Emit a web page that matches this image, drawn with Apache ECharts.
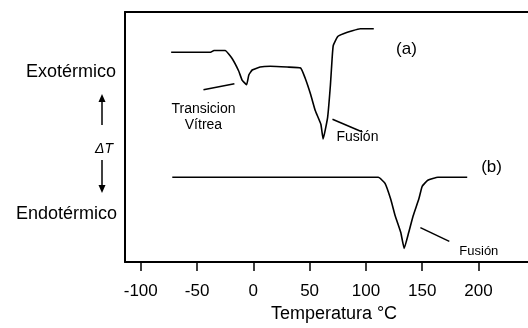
<!DOCTYPE html>
<html>
<head>
<meta charset="utf-8">
<script src="https://cdn.jsdelivr.net/npm/echarts@6/dist/echarts.min.js"></script>
<style>
html, body { margin: 0; padding: 0; background: #fff; }
#main { width: 528px; height: 328px; }
</style>
</head>
<body>
<div id="main"></div>
<script>
// curva (a): temperatura (°C) y señal ΔT (unidades arbitrarias)
const tempA = [-73, -38, -35, -25, -19, -13, -10, -6, -4, -1, 6, 15, 30, 42, 46, 51, 55, 60, 62, 66, 68.5, 70, 71, 75, 80, 88, 95, 107];
const dtA = [83.9, 83.9, 84.6, 84.6, 81.5, 76.4, 72.8, 70.9, 74.8, 76.8, 78.0, 78.3, 78.0, 77.6, 73.6, 66.9, 60.6, 55.1, 49.2, 57.9, 70.9, 81.5, 86.6, 90.2, 91.3, 92.5, 93.3, 93.3];
// curva (b)
const tempB = [-72, 111, 117, 122, 126, 131, 134, 138, 142, 147, 150, 155, 164, 190];
const dtB = [33.9, 33.9, 31.5, 25.2, 18.5, 11.8, 5.5, 11.8, 18.5, 25.2, 30.3, 32.7, 33.9, 33.9];
const tickTemps = [-100, -50, 0, 50, 100, 150, 200];

const font = '"Liberation Sans", Arial, sans-serif';
const black = '#000';

let chart = echarts.init(document.getElementById('main'));
chart.setOption({
    animation: false,
    grid: { left: 125, right: 0, top: 12, bottom: 61 },
    xAxis: [{
        type: 'value',
        min: -114,
        max: 244,
        position: 'bottom',
        axisLine: { onZero: false, lineStyle: { color: black, width: 2 } },
        axisTick: { customValues: tickTemps, length: 9, lineStyle: { color: black, width: 1.5 } },
        axisLabel: { customValues: tickTemps, color: black, fontSize: 17, fontFamily: font, margin: 21 },
        splitLine: { show: false },
        name: 'Temperatura °C',
        nameLocation: 'middle',
        nameGap: 41,
        nameTextStyle: { color: black, fontSize: 18, fontFamily: font, padding: [0, 0, 0, 15] }
    }, {
        type: 'value',
        min: -114,
        max: 244,
        position: 'top',
        axisLine: { onZero: false, lineStyle: { color: black, width: 2 } },
        axisTick: { show: false },
        axisLabel: { show: false },
        splitLine: { show: false }
    }],
    yAxis: {
        type: 'value',
        min: 0,
        max: 100,
        axisLine: { show: true, onZero: false, lineStyle: { color: black, width: 2 } },
        axisTick: { show: false },
        axisLabel: { show: false },
        splitLine: { show: false }
    },
    series: [{
        type: 'line',
        data: tempA.map((t, i) => [t, dtA[i]]),
        showSymbol: false,
        smooth: 0.12,
        lineStyle: { color: black, width: 1.6 }
    }, {
        type: 'line',
        data: tempB.map((t, i) => [t, dtB[i]]),
        showSymbol: false,
        smooth: 0.12,
        lineStyle: { color: black, width: 1.6 }
    }]
});

// anotaciones en coordenadas de datos
const pointers = [
    [-44.3, 68.9, -16.8, 71.3],
    [70.3, 57.1, 96.9, 52.0],
    [148.4, 13.8, 174.1, 8.3]
];
const notes = [
    { text: 'Transicion\nVítrea', x: -44.3, y: 57.9, align: 'center', size: 14 },
    { text: 'Fusión', x: 73.8, y: 50.0, align: 'left', size: 14 },
    { text: '(a)', x: 136, y: 85, align: 'center', size: 17 },
    { text: '(b)', x: 211.6, y: 37.8, align: 'center', size: 17 },
    { text: 'Fusión', x: 183, y: 4.3, align: 'left', size: 13 }
];

const toPx = (x, y) => chart.convertToPixel({ seriesIndex: 0 }, [x, y]);
let graphics = [];
pointers.forEach(p => {
    const a = toPx(p[0], p[1]);
    const b = toPx(p[2], p[3]);
    graphics.push({
        type: 'line',
        shape: { x1: a[0], y1: a[1], x2: b[0], y2: b[1] },
        style: { stroke: black, lineWidth: 1.5 }
    });
});
notes.forEach(n => {
    const p = toPx(n.x, n.y);
    graphics.push({
        type: 'text',
        x: p[0],
        y: p[1],
        style: { text: n.text, fill: black, font: n.size + 'px ' + font, align: n.align, verticalAlign: 'middle', lineHeight: 16 }
    });
});
// rótulos del eje ΔT (fuera del área del gráfico)
graphics.push(
    { type: 'text', x: 116, y: 72, style: { text: 'Exotérmico', fill: black, font: '18px ' + font, align: 'right', verticalAlign: 'middle' } },
    { type: 'text', x: 117, y: 214, style: { text: 'Endotérmico', fill: black, font: '18px ' + font, align: 'right', verticalAlign: 'middle' } },
    { type: 'text', x: 104, y: 149, style: { text: 'ΔT', fill: black, font: 'italic 14px ' + font, align: 'center', verticalAlign: 'middle' } },
    { type: 'line', shape: { x1: 102, y1: 125, x2: 102, y2: 99 }, style: { stroke: black, lineWidth: 1.5 } },
    { type: 'polygon', shape: { points: [[98.5, 102], [102, 94], [105.5, 102]] }, style: { fill: black } },
    { type: 'line', shape: { x1: 102, y1: 160, x2: 102, y2: 187 }, style: { stroke: black, lineWidth: 1.5 } },
    { type: 'polygon', shape: { points: [[98.5, 185], [102, 193], [105.5, 185]] }, style: { fill: black } }
);
chart.setOption({ graphic: graphics });
</script>
</body>
</html>
